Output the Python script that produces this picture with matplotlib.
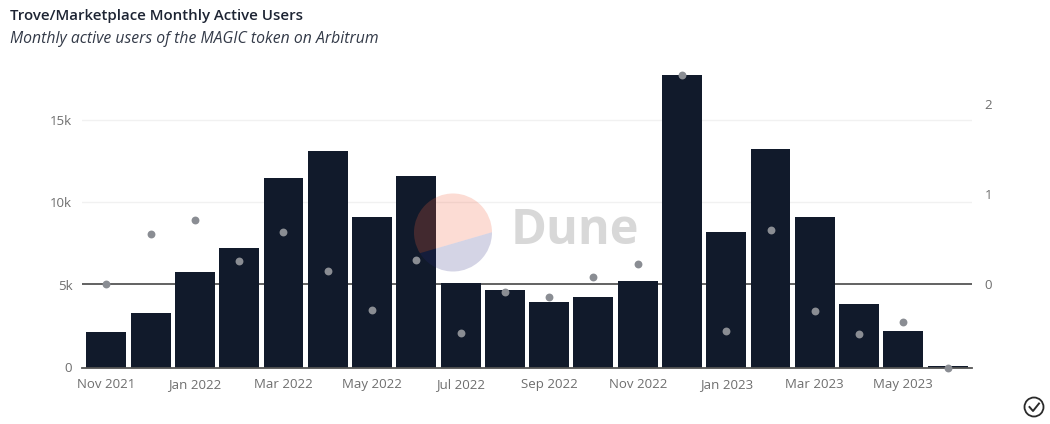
import numpy as np
import matplotlib
matplotlib.use('Agg')
import matplotlib.pyplot as plt
from matplotlib.patches import Circle, Polygon

plt.rcParams['font.family'] = ['Open Sans', 'DejaVu Sans']

months = ['Nov 2021', 'Dec 2021', 'Jan 2022', 'Feb 2022', 'Mar 2022', 'Apr 2022', 'May 2022',
          'Jun 2022', 'Jul 2022', 'Aug 2022', 'Sep 2022', 'Oct 2022', 'Nov 2022', 'Dec 2022',
          'Jan 2023', 'Feb 2023', 'Mar 2023', 'Apr 2023', 'May 2023', 'Jun 2023']
active_users = [2150, 3300, 5800, 7250, 11500, 13100, 9100, 11600, 5150, 4700,
                3950, 4300, 5250, 17750, 8200, 13250, 9100, 3850, 2200, 100]
growth = [0.0, 0.55, 0.71, 0.25, 0.58, 0.14, -0.30, 0.26, -0.55, -0.09,
          -0.15, 0.07, 0.22, 2.32, -0.53, 0.60, -0.31, -0.56, -0.43, -0.94]
left_ticks = [0, 5000, 10000, 15000]
left_labels = ['0', '5k', '10k', '15k']
right_ticks = [0, 1, 2]

W, H = 1050, 424
BAR = '#111a2b'
TICK = '#6e6e6e'
LEFT_LIM = (0, 18333)
RIGHT_LIM = (-0.936, 2.436)

fig = plt.figure(figsize=(W / 100, H / 100), dpi=100, facecolor='white')

# axes box measured in pixels of the reference
top_px, bottom_px = 65, 367.5
ax = fig.add_axes([82 / W, 1 - bottom_px / H, 890 / W, (bottom_px - top_px) / H])
x = np.arange(len(months))

for t in left_ticks[2:]:
    ax.axhline(t, color='#f1f1f1', lw=1, zorder=0)
# right axis zero line, has to stay behind the bars so it lives on the left axes
zero_frac = (0 - RIGHT_LIM[0]) / (RIGHT_LIM[1] - RIGHT_LIM[0])
ax.axhline(zero_frac * LEFT_LIM[1], color='#555555', lw=1.3, zorder=1)
ax.bar(x, active_users, width=0.9, color=BAR, zorder=2)
ax.set_xlim(-0.55, 19.55)
ax.set_ylim(*LEFT_LIM)
ax.set_yticks(left_ticks, left_labels)
ax.set_xticks(x[::2], months[::2])
ax.tick_params(axis='both', length=0, labelsize=9.5, labelcolor=TICK)
ax.tick_params(axis='x', pad=14.5)
ax.tick_params(axis='y', pad=7)
for label in ax.get_xticklabels():
    label.set_verticalalignment('baseline')
for s in ['top', 'left', 'right']:
    ax.spines[s].set_visible(False)
ax.spines['bottom'].set_color('#555555')
ax.spines['bottom'].set_linewidth(1.3)

ax2 = ax.twinx()
ax2.scatter(x, growth, s=32, color='#8a8d93', linewidths=0, zorder=3, clip_on=False)
ax2.set_ylim(*RIGHT_LIM)
ax2.set_yticks(right_ticks)
ax2.tick_params(axis='y', length=0, labelsize=9.5, labelcolor=TICK, pad=9)
for s in ax2.spines.values():
    s.set_visible(False)

fig.text(10 / W, 1 - 16 / H, 'Trove/Marketplace Monthly Active Users', fontsize=10.8,
         fontweight='semibold', color='#1d2433', va='center', ha='left')
fig.text(10 / W, 1 - 39 / H, 'Monthly active users of the MAGIC token on Arbitrum', fontsize=11.3,
         style='italic', color='#333a48', va='center', ha='left')

# watermark and check icon, in figure pixels
ov = fig.add_axes([0, 0, 1, 1], zorder=5)
ov.set_xlim(0, W)
ov.set_ylim(H, 0)
ov.axis('off')
ov.patch.set_alpha(0)

disc = Circle((453, 232.5), 39, transform=ov.transData, fc='none', ec='none')
ov.add_patch(disc)
upper = Polygon([(400, 259), (510, 227), (510, 180), (400, 180)], fc='#f4603e', alpha=0.22, ec='none')
ov.add_patch(upper)
upper.set_clip_path(disc)
lower = Polygon([(400, 259), (510, 227), (510, 290), (400, 290)], fc='#2a2a80', alpha=0.2, ec='none')
ov.add_patch(lower)
lower.set_clip_path(disc)

ov.text(575, 232, 'Dune', fontsize=35, fontweight='bold', color='#d8d8d8',
        ha='center', va='center')

ov.add_patch(Circle((1034, 407), 9.5, fc='none', ec='#2a2a2a', lw=1.3))
ov.plot([1029.5, 1033, 1039], [407, 411, 403.5], color='#2a2a2a', lw=1.4)

fig.savefig('out.png', dpi=100)
plt.close(fig)
